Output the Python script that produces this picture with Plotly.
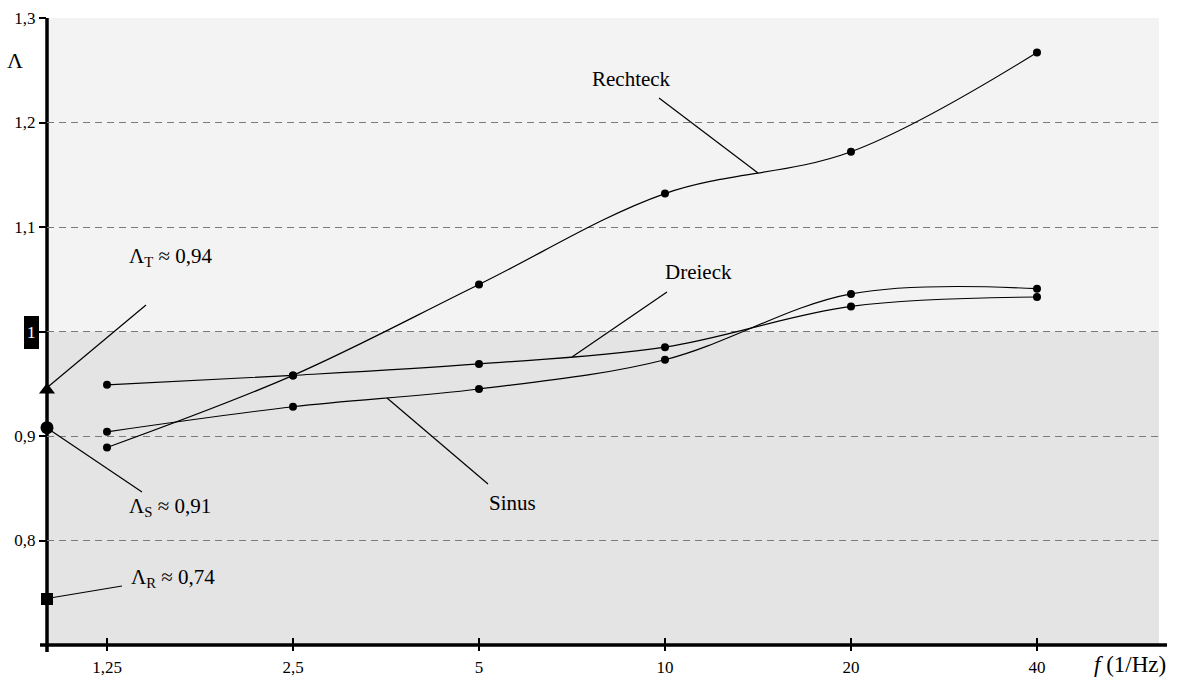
import plotly.graph_objects as go

# ---------------- data ----------------
freq_labels = ["1,25", "2,5", "5", "10", "20", "40"]
freq_pos = [0, 1, 2, 3, 4, 5]
rechteck = [0.889, 0.958, 1.045, 1.132, 1.172, 1.267]
dreieck = [0.949, 0.958, 0.969, 0.985, 1.024, 1.033]
sinus = [0.904, 0.928, 0.945, 0.973, 1.036, 1.041]

lambda_vals = [0.944, 0.908, 0.744]          # Λ_T, Λ_S, Λ_R
lambda_symbols = ["triangle-up", "circle", "square"]
lambda_labels = ["Λ<sub>T</sub> ≈ 0,94", "Λ<sub>S</sub> ≈ 0,91", "Λ<sub>R</sub> ≈ 0,74"]

y_tickvals = [0.8, 0.9, 1.0, 1.1, 1.2, 1.3]
y_ticktext = ["0,8", "0,9", " ", "1,1", "1,2", "1,3"]

X_RANGE = [-0.3226, 5.656]
Y_RANGE = [0.7, 1.3]

# ---------------- layout geometry ----------------
W, H = 1180, 686
L, R, T, B = 47, 21, 18, 41
PW, PH = W - L - R, H - T - B
FONT = "Liberation Serif, Times New Roman, serif"


def px(xp):
    return (xp - L) / PW


def py(yp):
    return (H - B - yp) / PH


fig = go.Figure()

line_style = dict(color="black", width=1.2, shape="spline", smoothing=1)
marker_style = dict(color="black", size=8, symbol="circle", opacity=1)
for name, vals in [("Rechteck", rechteck), ("Dreieck", dreieck), ("Sinus", sinus)]:
    fig.add_trace(go.Scatter(x=freq_pos, y=vals, mode="lines+markers", name=name,
                             line=line_style, marker=marker_style, cliponaxis=False,
                             showlegend=False))

fig.add_trace(go.Scatter(x=[X_RANGE[0]] * 3, y=lambda_vals, mode="markers",
                         marker=dict(color="black", size=[14, 13, 12], symbol=lambda_symbols,
                                     opacity=1, line=dict(width=0)),
                         cliponaxis=False, showlegend=False))

shapes = []
# background bands
shapes.append(dict(type="rect", xref="paper", yref="y", x0=0, x1=1, y0=1.0, y1=1.3,
                   fillcolor="#f3f3f3", line=dict(width=0), layer="below"))
shapes.append(dict(type="rect", xref="paper", yref="y", x0=0, x1=1, y0=0.7, y1=1.0,
                   fillcolor="#e4e4e4", line=dict(width=0), layer="below"))
# axis lines
shapes.append(dict(type="line", xref="paper", yref="paper", x0=0, x1=0, y0=py(652), y1=1,
                   line=dict(color="black", width=3.5), layer="below"))
shapes.append(dict(type="line", xref="paper", yref="paper", x0=px(40), x1=px(1167), y0=0, y1=0,
                   line=dict(color="black", width=3.5), layer="below"))
# upward part of x ticks
for xv in freq_pos:
    shapes.append(dict(type="line", xref="x", yref="paper", x0=xv, x1=xv, y0=0, y1=py(638),
                       line=dict(color="black", width=2)))
# box behind "1"
shapes.append(dict(type="rect", xref="paper", yref="paper", x0=px(24), x1=px(39),
                   y0=py(349), y1=py(316), fillcolor="black", line=dict(width=0)))
# leader lines
leaders = [
    ((659, 98), (758, 173)),   # Rechteck
    ((667, 292), (572, 357)),  # Dreieck
    ((387, 398), (488, 484)),  # Sinus
    ((146, 305), (49, 386)),   # Λ_T
    ((50, 430), (142, 492)),   # Λ_S
    ((50, 598), (122, 586)),   # Λ_R
]
for (x0, y0), (x1, y1) in leaders:
    shapes.append(dict(type="line", xref="paper", yref="paper", x0=px(x0), y0=py(y0),
                       x1=px(x1), y1=py(y1), line=dict(color="black", width=1.2)))

annotations = []


def ann(text, x, y, size=21, xanchor="center", color="black"):
    annotations.append(dict(text=text, x=px(x), y=py(y), xref="paper", yref="paper",
                            showarrow=False, xanchor=xanchor, yanchor="middle",
                            font=dict(family=FONT, size=size, color=color)))


ann("Rechteck", 673, 79, xanchor="right")
ann("Dreieck", 663, 272, xanchor="left")
ann("Sinus", 487, 503, xanchor="left")
ann(lambda_labels[0], 127, 257, xanchor="left")
ann(lambda_labels[1], 127, 507, xanchor="left")
ann(lambda_labels[2], 129, 578, xanchor="left")
ann("Λ", 15, 61, size=22)
ann("1", 31.5, 332, size=17, color="white")
ann("<i>f</i> (1/Hz)", 1168, 664, size=23, xanchor="right")

fig.update_layout(
    width=W, height=H,
    margin=dict(l=L, r=R, t=T, b=B, pad=0),
    paper_bgcolor="white", plot_bgcolor="rgba(0,0,0,0)",
    font=dict(family=FONT, size=17, color="black"),
    shapes=shapes, annotations=annotations,
    xaxis=dict(range=X_RANGE, tickvals=freq_pos, ticktext=freq_labels, showgrid=False,
               zeroline=False, showline=False, ticks="outside", ticklen=5, tickwidth=2,
               tickcolor="black", ticklabelstandoff=2, automargin=False,
               tickfont=dict(family=FONT, size=17)),
    yaxis=dict(range=Y_RANGE, tickvals=y_tickvals, ticktext=y_ticktext, showgrid=True,
               gridcolor="#7a7a7a", griddash="7px,5px", gridwidth=1, zeroline=False,
               showline=False, ticks="outside", ticklen=7, tickwidth=2, tickcolor="black",
               automargin=False, tickfont=dict(family=FONT, size=17)),
)

fig.write_html("out.html", config={"displayModeBar": False},
               post_script="document.body.style.margin='0';")
